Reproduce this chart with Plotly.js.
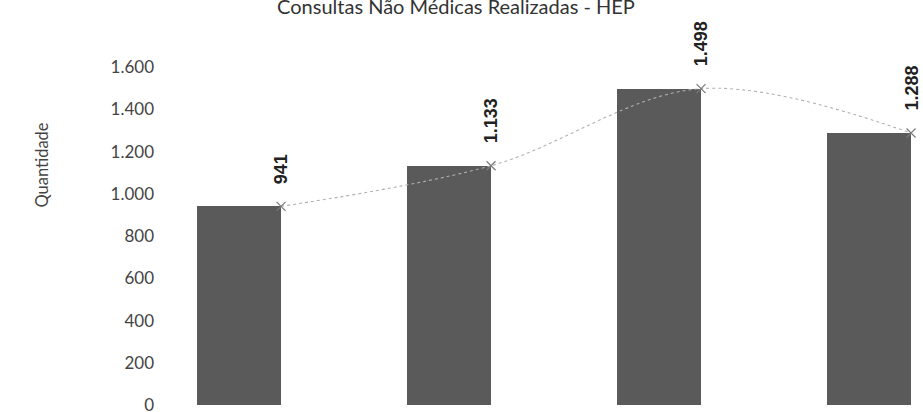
<!DOCTYPE html>
<html>
<head>
<meta charset="utf-8">
<script src="https://cdn.plot.ly/plotly-3.0.1.min.js"></script>
<style>html,body{margin:0;padding:0;background:#fff;}#chart{width:923px;height:412px;}</style>
</head>
<body>
<div id="chart"></div>
<script>
// Data
const categories = ["1", "2", "3", "4"];
const values = [941, 1133, 1498, 1288];
const yTicks = [0, 200, 400, 600, 800, 1000, 1200, 1400, 1600];
const titleText = "Consultas Não Médicas Realizadas - HEP";
const yTitle = "Quantidade";

const barWidth = 0.4;
const idx = categories.map((c, i) => i);
const lineX = idx.map(i => i + barWidth / 2);

function fmt(v) {
  return String(v).replace(/\B(?=(\d{3})+(?!\d))/g, ".");
}

const bars = {
  type: "bar",
  x: idx,
  y: values,
  width: barWidth,
  marker: {color: "#5a5a5a", line: {width: 0}},
  hoverinfo: "none",
  showlegend: false
};

const line = {
  type: "scatter",
  mode: "lines+markers",
  x: lineX,
  y: values,
  line: {color: "#b0b0b0", width: 1.1, dash: "dot", shape: "spline", smoothing: 1},
  marker: {symbol: "x-thin", size: 9, line: {color: "#7a7a7a", width: 1.2}, color: "#7a7a7a"},
  hoverinfo: "none",
  showlegend: false
};

const labelAnns = values.map((v, i) => ({
  x: lineX[i], y: v, xref: "x", yref: "y",
  text: fmt(v), showarrow: false, textangle: -90,
  xanchor: "center", yanchor: "bottom", yshift: 20,
  font: {family: "Liberation Sans, Arial, sans-serif", size: 18, color: "#222", weight: "bold"}
}));

const layout = {
  width: 923, height: 412,
  margin: {l: 175, r: 0, t: 46, b: 4, pad: 0},
  paper_bgcolor: "#fff", plot_bgcolor: "#fff",
  separators: ",.",
  title: {
    text: titleText, x: 0.494, xanchor: "center", y: 0.984, yanchor: "middle",
    font: {family: "Lato, 'Open Sans', sans-serif", size: 20, color: "#333"}
  },
  xaxis: {range: [-0.305, 3.257], showgrid: false, zeroline: false, showline: false, showticklabels: false, ticks: "", fixedrange: true},
  yaxis: {
    range: [-14, 1700], tickvals: yTicks, ticktext: yTicks.map(fmt),
    showgrid: false, zeroline: false, showline: false, ticks: "",
    ticklabelstandoff: 20, ticklabeloverflow: "allow",
    tickfont: {family: "Lato, 'Open Sans', sans-serif", size: 17, color: "#444"},
    fixedrange: true
  },
  annotations: labelAnns.concat([{
    xref: "paper", yref: "paper", x: -0.178, y: 0.672,
    text: yTitle, showarrow: false, textangle: -90,
    xanchor: "center", yanchor: "middle",
    font: {family: "Lato, 'Open Sans', sans-serif", size: 16.5, color: "#444"}
  }]),
  bargap: 0
};

Plotly.newPlot("chart", [bars, line], layout, {displayModeBar: false, staticPlot: true});
</script>
</body>
</html>
